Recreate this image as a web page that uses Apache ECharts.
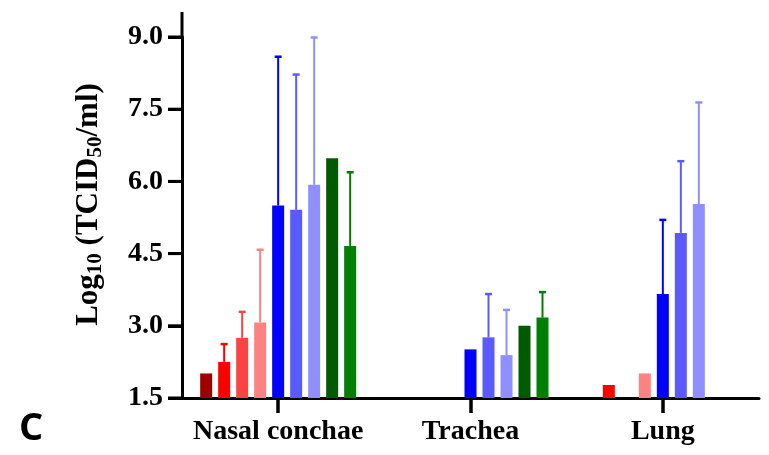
<!DOCTYPE html>
<html>
<head>
<meta charset="utf-8">
<script src="https://cdn.jsdelivr.net/npm/echarts@6/dist/echarts.min.js"></script>
<style>
  html, body { margin: 0; padding: 0; background: #fff; }
  #main { width: 769px; height: 455px; }
</style>
</head>
<body>
<div id="main"></div>
<script>
// 组织类别
var categories = ['Nasal conchae', 'Trachea', 'Lung'];

// 每组的平均值（null = 无数据）
var darkRed   = [2.01, null, null];
var red       = [2.25, null, 1.77];
var midRed    = [2.75, null, null];
var pink      = [3.07, null, 2.01];
var blue      = [5.50, 2.51, 3.66];
var midBlue   = [5.41, 2.76, 4.93];
var lightBlue = [5.93, 2.39, 5.53];
var darkGreen = [6.48, 3.00, null];
var green     = [4.66, 3.17, null];

// 误差线上端（null = 无误差线）
var darkRedTop   = [null, null, null];
var redTop       = [2.62, null, null];
var midRedTop    = [3.29, null, null];
var pinkTop      = [4.58, null, null];
var blueTop      = [8.59, null, 5.20];
var midBlueTop   = [8.22, 3.66, 6.42];
var lightBlueTop = [8.99, 3.33, 7.64];
var darkGreenTop = [null, null, null];
var greenTop     = [6.19, 3.70, null];

// y 轴刻度
var yTicks = [1.5, 3.0, 4.5, 6.0, 7.5, 9.0];

var means = [darkRed, red, midRed, pink, blue, midBlue, lightBlue, darkGreen, green];
var tops = [darkRedTop, redTop, midRedTop, pinkTop, blueTop, midBlueTop, lightBlueTop, darkGreenTop, greenTop];
var colors = ['#9e0000', '#ff0000', '#fa4444', '#ff8282', '#0000ff', '#5a5aff', '#8f8fff', '#005a00', '#008000'];

var BAR_W = 12, BAR_PITCH = 18;
var serif = '"Liberation Serif", "DejaVu Serif", serif';

var series = means.map(function (arr, i) {
    return {
        type: 'bar',
        data: arr.map(function (v) { return v == null ? '-' : v; }),
        barWidth: BAR_W,
        barGap: '50%',
        itemStyle: { color: colors[i] },
        silent: true
    };
});

// 误差线数据：[类别, 平均值, 上端, 系列序号]
var errData = [];
tops.forEach(function (arr, i) {
    arr.forEach(function (t, c) {
        if (t != null) errData.push([c, means[i][c], t, i]);
    });
});

series.push({
    type: 'custom',
    data: errData,
    encode: { x: 0, y: [1, 2] },
    clip: false,
    z: 3,
    renderItem: function (params, api) {
        var slot = api.value(3);
        var off = (slot - 4) * BAR_PITCH;
        var p0 = api.coord([api.value(0), api.value(1)]);
        var p1 = api.coord([api.value(0), api.value(2)]);
        var x = p0[0] + off;
        var col = colors[slot];
        return {
            type: 'group',
            children: [
                { type: 'line', shape: { x1: x, y1: p0[1], x2: x, y2: p1[1] }, style: { stroke: col, lineWidth: 2 } },
                { type: 'line', shape: { x1: x - 3.5, y1: p1[1], x2: x + 3.5, y2: p1[1] }, style: { stroke: col, lineWidth: 2.5 } }
            ]
        };
    }
});

// y 轴刻度线，放在上层画布
series.push({
    type: 'custom',
    data: yTicks.map(function (v) { return [0, v]; }),
    encode: { x: 0, y: 1 },
    clip: false,
    silent: true,
    zlevel: 1,
    z: 10,
    renderItem: function (params, api) {
        var p = api.coord([0, api.value(1)]);
        var x0 = 182;
        if (params.coordSys && params.coordSys.x != null) x0 = params.coordSys.x;
        return {
            type: 'line',
            shape: { x1: x0 - 14, y1: p[1], x2: x0, y2: p[1] },
            style: { stroke: '#000', lineWidth: 3 }
        };
    }
});

var myChart = echarts.init(document.getElementById('main'));

var option = {
    animation: false,
    backgroundColor: '#fff',
    grid: { left: 182, right: 10, top: 37, bottom: 57 },
    xAxis: {
        type: 'category',
        data: categories,
        axisLine: { lineStyle: { color: '#000', width: 3 } },
        axisTick: { show: true, alignWithLabel: true, interval: 0, length: 15, lineStyle: { color: '#000', width: 3.5 } },
        axisLabel: { color: '#000', fontFamily: serif, fontWeight: 'bold', fontSize: 28, margin: 20, interval: 0 }
    },
    yAxis: {
        type: 'value',
        min: 1.5,
        max: 9.0,
        interval: 1.5,
        splitLine: { show: false },
        axisLine: { show: true, lineStyle: { color: '#000', width: 3 } },
        axisTick: { show: true, length: 14, lineStyle: { color: '#000', width: 3 } },
        axisLabel: {
            color: '#000', fontFamily: serif, fontWeight: 'bold', fontSize: 28, margin: 19,
            formatter: function (v) { return v.toFixed(1); }
        },
        name: '{b|Log}{s|10}{b| (TCID}{s|50}{b|/ml)}',
        nameLocation: 'middle',
        nameRotate: 90,
        nameGap: 76,
        nameTextStyle: {
            padding: [0, 0, 0, 26],
            rich: {
                b: { fontFamily: serif, fontWeight: 'bold', fontSize: 31, color: '#000' },
                s: { fontFamily: serif, fontWeight: 'bold', fontSize: 21, color: '#000', padding: [14, 0, 0, 0] }
            }
        }
    },
    graphic: [
        {
            // y 轴线在 9.0 之上延伸
            type: 'line',
            shape: { x1: 182, y1: 12, x2: 182, y2: 38 },
            style: { stroke: '#000', lineWidth: 3 }
        },
        {
            type: 'text',
            left: 19,
            top: 410,
            style: { text: 'C', fontFamily: '"Open Sans", "DejaVu Sans", sans-serif', fontWeight: 'bold', fontSize: 38, fill: '#000' }
        }
    ],
    series: series
};

myChart.setOption(option);
</script>
</body>
</html>
